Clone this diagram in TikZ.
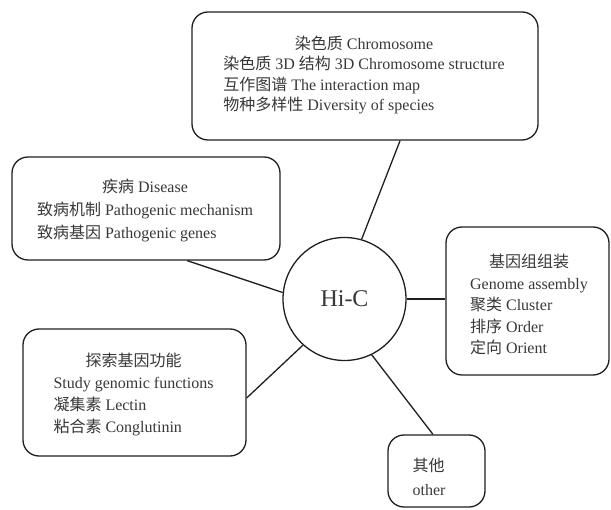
\documentclass[tikz,border=0pt]{standalone}
\usepackage{fontspec}
\setmainfont{Liberation Serif}
\newfontfamily\cjk{Noto Sans CJK SC}
\usetikzlibrary{calc}
\newcommand\zh[1]{{\cjk #1}}
\newcommand\boxlines[2]{{\fontsize{16}{#1}\selectfont\begin{tabular}{@{}l@{}}#2\end{tabular}}}
\newcommand\headline[1]{\multicolumn{1}{@{}c@{}}{#1}}
\begin{document}
\begin{tikzpicture}[x=1pt,y=-1pt,
  box/.style={draw=black!88, line width=1.3pt, rounded corners=16pt, inner sep=0pt},
  txt/.style={inner sep=0pt, text=black!78},
  link/.style={draw=black!88, line width=1.3pt}]
\useasboundingbox (0,0) rectangle (611,510);
% boxes
\node[box, minimum width=346pt, minimum height=128pt] (chrom) at (365,76) {};
\node[box, minimum width=268pt, minimum height=103pt] (disease) at (146,208.5) {};
\node[box, minimum width=223pt, minimum height=127pt] (study) at (134.5,392.5) {};
\node[box, minimum width=163pt, minimum height=148pt] (genome) at (527.5,301) {};
\node[box, minimum width=97pt, minimum height=72pt] (other) at (436.5,471) {};
% centre
\node[circle, draw=black!88, line width=1.3pt, minimum size=123pt, inner sep=0pt,
  text=black!78, font=\fontsize{24}{28}\selectfont] (hic) at (344.5,299) {Hi-C};
% texts
\node[txt] (chromtext) at (364,76) {\boxlines{20.5}{%
  \headline{\zh{染色质} Chromosome}\\
  \zh{染色质} 3D \zh{结构} 3D Chromosome structure\\
  \zh{互作图谱} The interaction map\\
  \zh{物种多样性} Diversity of species}};
\node[txt] (diseasetext) at (145,211) {\boxlines{23}{%
  \headline{\zh{疾病} Disease}\\
  \zh{致病机制} Pathogenic mechanism\\
  \zh{致病基因} Pathogenic genes}};
\node[txt] (studytext) at (133.5,395) {\boxlines{22.3}{%
  \headline{\zh{探索基因功能}}\\
  Study genomic functions\\
  \zh{凝集素} Lectin\\
  \zh{粘合素} Conglutinin}};
\node[txt] (genometext) at (529,306.5) {\boxlines{21.5}{%
  \headline{\zh{基因组组装}}\\
  Genome assembly\\
  \zh{聚类} Cluster\\
  \zh{排序} Order\\
  \zh{定向} Orient}};
\node[txt] (othertext) at (429,478.5) {\boxlines{24}{%
  \zh{其他}\\
  other}};
% connectors
\draw[link] (hic.74) -- ($(chrom.south west)!0.601!(chrom.south east)$);
\draw[link] (hic.174) -- ($(disease.south west)!0.653!(disease.south east)$);
\draw[link] (hic.228) -- ($(study.north east)!0.543!(study.south east)$);
\draw[link] (hic.east) -- (hic.east -| genome.west);
\draw[link] (hic.-64) -- ($(other.north west)!0.464!(other.north east)$);
\end{tikzpicture}
\end{document}
